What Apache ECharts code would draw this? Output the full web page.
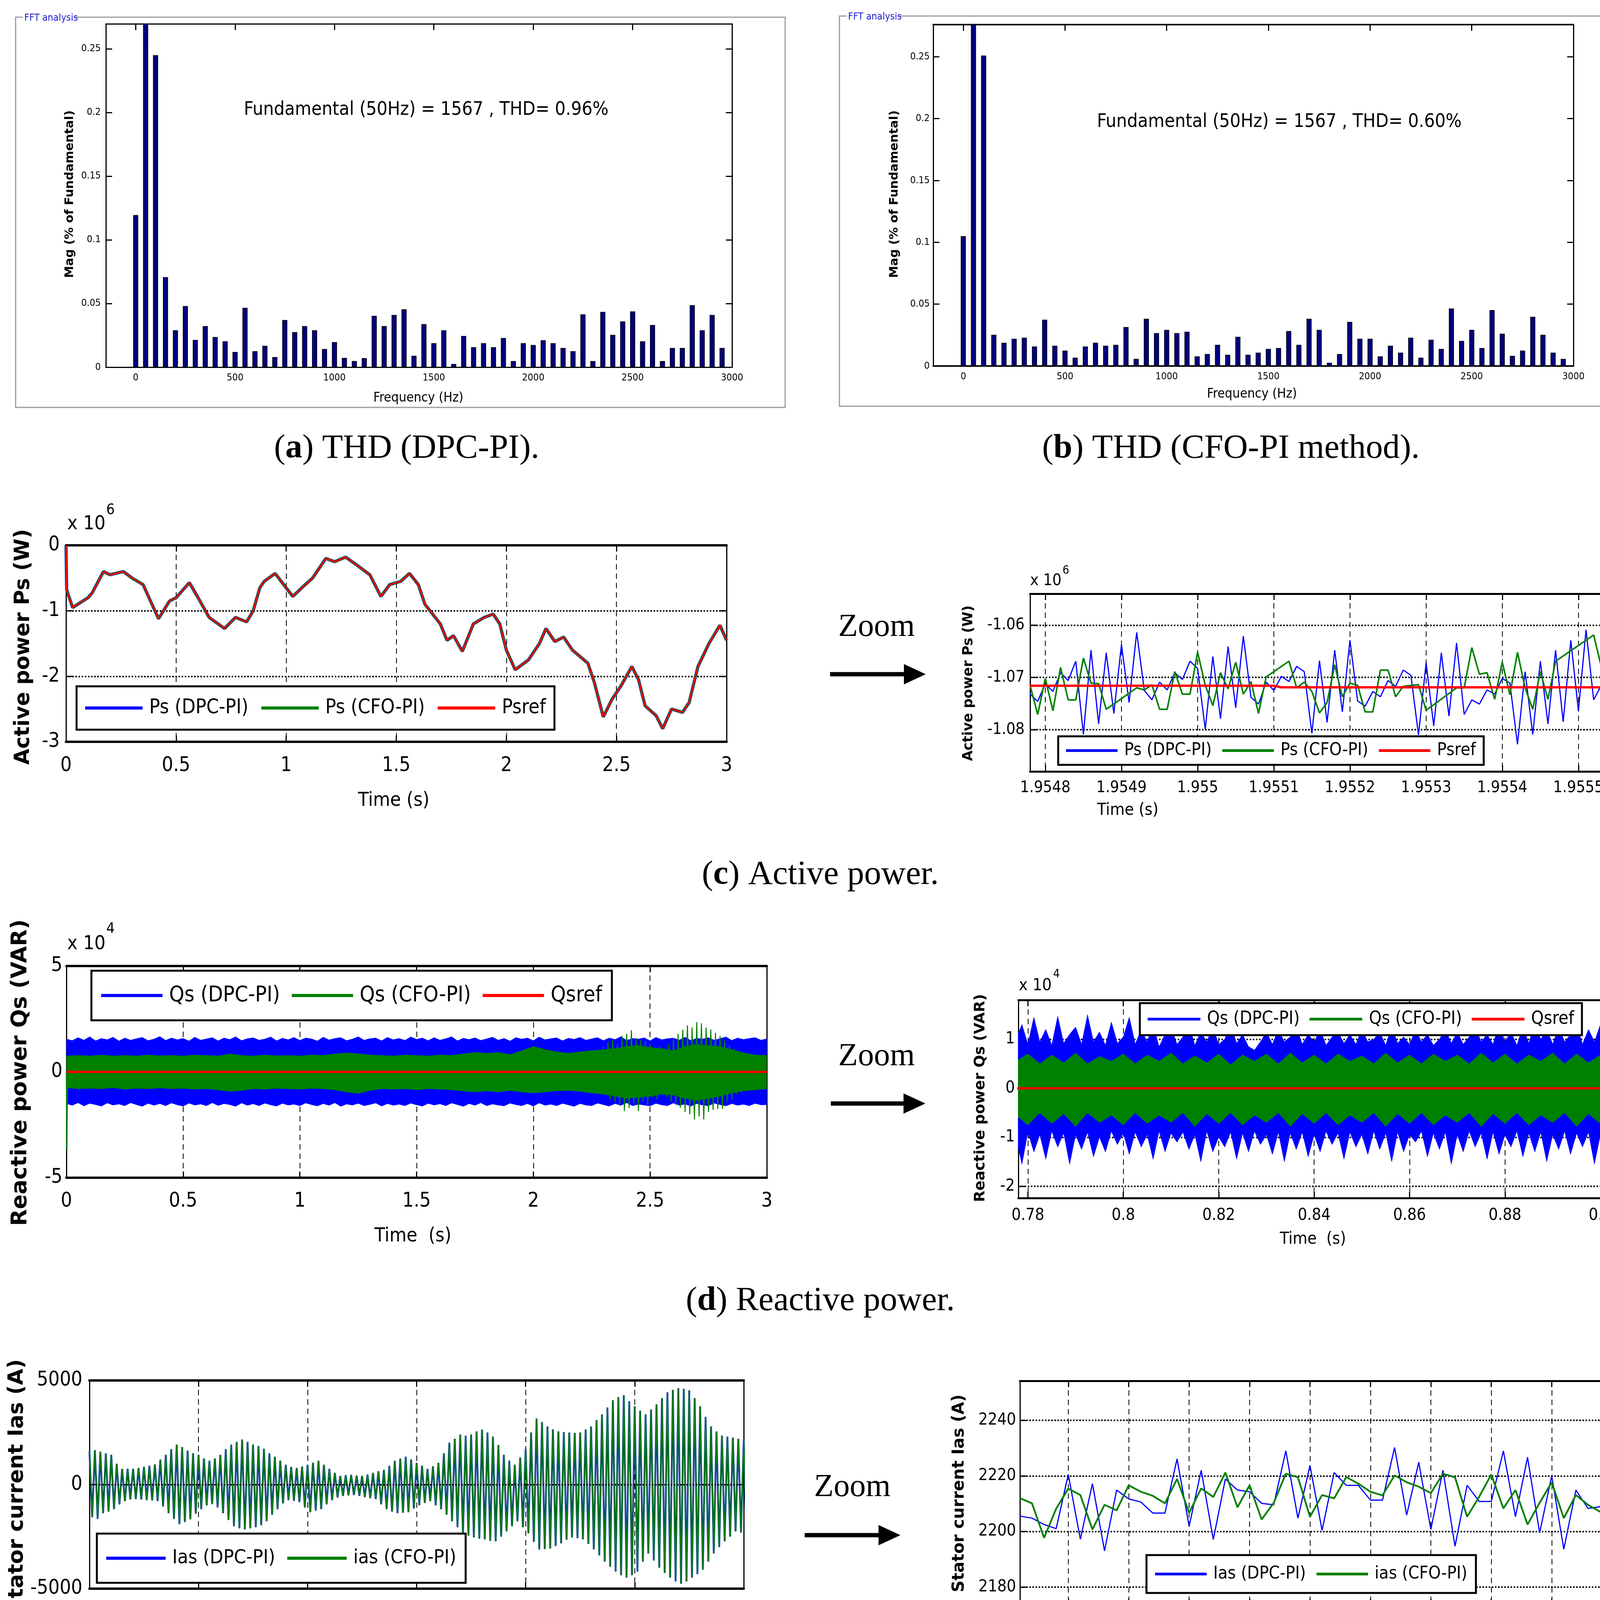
<!DOCTYPE html>
<html lang="en">
<head>
  <meta charset="utf-8">
</head>
<body style="margin: 0; background: #fff">
  <div id="container" style="width: 4164px; height: 5426px"></div>
  <script src="https://cdn.jsdelivr.net/npm/echarts@6.0.0/dist/echarts.min.js"></script>
  <script>
var FN = "'Liberation Sans Narrow','DejaVu Sans Condensed','Liberation Sans',sans-serif";
var FB = "'DejaVu Sans','Liberation Sans',sans-serif";
var FS = "'Liberation Serif','DejaVu Serif',serif";

// ---- (a), (b) FFT spectra ----
var fftFreq = [0,50,100,150,200,250,300,350,400,450,500,550,600,650,700,750,800,850,900,950,
  1000,1050,1100,1150,1200,1250,1300,1350,1400,1450,1500,1550,1600,1650,1700,1750,1800,1850,1900,1950,
  2000,2050,2100,2150,2200,2250,2300,2350,2400,2450,2500,2550,2600,2650,2700,2750,2800,2850,2900,2950];
var fftDpc = [0.1195,0.28,0.245,0.0707,0.029,0.048,0.0214,0.0323,0.0237,0.0203,
  0.012,0.0466,0.0126,0.0168,0.008,0.037,0.0275,0.0323,0.029,0.0143,
  0.0197,0.0073,0.0048,0.0071,0.0403,0.0323,0.041,0.0455,0.009,0.0338,
  0.0189,0.029,0.0025,0.0245,0.0157,0.0189,0.0157,0.0229,0.0048,0.0189,
  0.0174,0.0212,0.0189,0.0151,0.0126,0.0415,0.0048,0.0434,0.0254,0.036,
  0.0438,0.0203,0.0331,0.0048,0.0151,0.0151,0.0487,0.029,0.041,0.0151];
var fftCfo = [0.105,0.28,0.251,0.0253,0.0188,0.022,0.0229,0.0158,0.0374,0.0164,
  0.0125,0.0067,0.0158,0.0188,0.0164,0.0171,0.0315,0.0058,0.0382,0.0266,
  0.0292,0.0266,0.0277,0.0078,0.0097,0.0171,0.0091,0.0236,0.0091,0.0108,
  0.0138,0.0145,0.0283,0.0171,0.0382,0.0292,0.0026,0.0097,0.0357,0.022,
  0.022,0.0078,0.0164,0.0108,0.0229,0.0067,0.0212,0.0138,0.0465,0.0203,
  0.0292,0.0145,0.0452,0.0261,0.0082,0.0125,0.0398,0.0253,0.0108,0.0058];
var fftFreqTicks = [0,500,1000,1500,2000,2500,3000];
var fftMagTicks = [0,0.05,0.1,0.15,0.2,0.25];

// ---- common time axis ----
var timeTicks = [0,0.5,1,1.5,2,2.5,3];

// ---- (c) active power, x10^6 W ----
var psTicks = [-3,-2,-1,0];
var psMain = [[0,0],[0.003,-0.68],[0.03,-0.95],[0.1,-0.8],[0.12,-0.72],[0.17,-0.4],[0.2,-0.45],[0.26,-0.4],
  [0.3,-0.5],[0.35,-0.6],[0.42,-1.12],[0.47,-0.85],[0.5,-0.8],[0.56,-0.57],[0.6,-0.8],[0.65,-1.1],[0.72,-1.27],
  [0.77,-1.1],[0.82,-1.17],[0.85,-1.0],[0.88,-0.65],[0.9,-0.55],[0.95,-0.43],[1.0,-0.65],[1.03,-0.78],[1.08,-0.62],
  [1.12,-0.5],[1.18,-0.2],[1.22,-0.25],[1.27,-0.18],[1.32,-0.3],[1.38,-0.45],[1.43,-0.78],[1.47,-0.6],[1.52,-0.55],
  [1.56,-0.43],[1.6,-0.6],[1.63,-0.9],[1.7,-1.2],[1.73,-1.45],[1.76,-1.38],[1.8,-1.62],[1.85,-1.2],[1.9,-1.1],
  [1.94,-1.05],[1.97,-1.2],[2.0,-1.6],[2.04,-1.9],[2.1,-1.75],[2.15,-1.5],[2.18,-1.27],[2.22,-1.47],[2.26,-1.4],
  [2.3,-1.6],[2.37,-1.8],[2.4,-2.1],[2.44,-2.62],[2.48,-2.35],[2.52,-2.15],[2.57,-1.85],[2.6,-2.05],[2.63,-2.45],
  [2.68,-2.6],[2.71,-2.8],[2.75,-2.5],[2.8,-2.55],[2.83,-2.4],[2.87,-1.85],[2.92,-1.5],[2.97,-1.22],[3.0,-1.45]];
var psZoomT0 = 1.95478, psZoomDt = 0.00001;
var psZoomDpc = [-1.0732,-1.0746,-1.0712,-1.0727,-1.0691,-1.0706,-1.0669,-1.0809,-1.0648,-1.0789,
  -1.0653,-1.0769,-1.0637,-1.0748,-1.0614,-1.0725,-1.0743,-1.0709,-1.0724,-1.0691,
  -1.0704,-1.0669,-1.0683,-1.0799,-1.0660,-1.0779,-1.0641,-1.0758,-1.0621,-1.0738,
  -1.0751,-1.0709,-1.0725,-1.0698,-1.0708,-1.0679,-1.0689,-1.0807,-1.0668,-1.0786,
  -1.0648,-1.0766,-1.0629,-1.0745,-1.0755,-1.0727,-1.0737,-1.0706,-1.0717,-1.0686,
  -1.0696,-1.0810,-1.0672,-1.0793,-1.0653,-1.0774,-1.0634,-1.0771,-1.0743,-1.0751,
  -1.0724,-1.0732,-1.0702,-1.0711,-1.0828,-1.0689,-1.0809,-1.0669,-1.0789,-1.0648,
  -1.0785,-1.0629,-1.0764,-1.0609,-1.0743,-1.0715,-1.0725,-1.0698,-1.0704];
// [sample index, value]
var psZoomCfo = [[0,-1.0715],[1,-1.0771],[2,-1.0702],[3,-1.0764],[4,-1.0681],[5,-1.0743],[6,-1.0743],[7,-1.0663],
  [8,-1.0711],[9,-1.0712],[10,-1.0761],[14,-1.0720],[15,-1.0724],[16,-1.0714],[17,-1.0761],[18,-1.0761],[19,-1.0689],
  [20,-1.0732],[21,-1.0732],[22,-1.0652],[23,-1.0715],[24,-1.0754],[25,-1.0691],[26,-1.0722],[27,-1.0671],[28,-1.0732],
  [29,-1.0708],[30,-1.0769],[31,-1.0699],[34,-1.0669],[35,-1.0720],[36,-1.0709],[37,-1.0727],[38,-1.0768],[39,-1.0748],
  [40,-1.0676],[41,-1.0737],[42,-1.0711],[43,-1.0715],[44,-1.0766],[45,-1.0766],[46,-1.0686],[47,-1.0686],[48,-1.0737],
  [49,-1.0717],[51,-1.0714],[52,-1.0763],[56,-1.0720],[57,-1.0720],[58,-1.0643],[59,-1.0694],[60,-1.0691],[61,-1.0742],
  [62,-1.0671],[63,-1.0733],[64,-1.0652],[65,-1.0720],[66,-1.0761],[67,-1.0689],[68,-1.0742],[69,-1.0669],[74,-1.0619],
  [75,-1.0679],[76,-1.0669],[77,-1.0726],[78,-1.0706]];
var psZoomRef = [[1.95478,-1.0716],[1.9551,-1.0716],[1.95511,-1.0719],[1.95556,-1.0719]];
var psZoomXTicks = [1.9548,1.9549,1.955,1.9551,1.9552,1.9553,1.9554,1.9555];
var psZoomXLabels = ['1.9548','1.9549','1.955','1.9551','1.9552','1.9553','1.9554','1.9555'];
var psZoomYTicks = [-1.08,-1.07,-1.06];

// ---- (d) reactive power, x10^4 VAR ----
var qsTicks = [-5,0,5];
// DPC-PI band edges every 0.025 s
var qsDpcStep = 0.025;
var qsDpcHi = [1.55,1.48,1.62,1.5,1.66,1.47,1.58,1.52,1.64,1.46,
  1.6,1.5,1.57,1.63,1.48,1.55,1.67,1.49,1.6,1.52,
  1.58,1.46,1.64,1.5,1.56,1.62,1.47,1.6,1.53,1.66,
  1.48,1.57,1.61,1.5,1.55,1.65,1.47,1.59,1.52,1.63,
  1.49,1.6,1.56,1.46,1.64,1.51,1.58,1.62,1.48,1.55,
  1.66,1.5,1.57,1.6,1.47,1.63,1.52,1.58,1.49,1.65,
  1.54,1.6,1.48,1.62,1.5,1.57,1.66,1.47,1.59,1.53,
  1.61,1.49,1.56,1.64,1.5,1.58,1.46,1.62,1.55,1.6,
  1.48,1.65,1.52,1.57,1.61,1.47,1.59,1.54,1.63,1.5,
  1.56,1.62,1.48,1.6,1.53,1.66,1.49,1.58,1.55,1.61,
  1.47,1.63,1.52,1.57,1.6,1.5,1.64,1.48,1.59,1.55,
  1.62,1.5,1.57,1.65,1.49,1.6,1.53,1.58,1.62,1.5,1.56];
var qsDpcLo = [-1.5,-1.58,-1.46,-1.61,-1.49,-1.55,-1.62,-1.47,-1.57,-1.52,
  -1.6,-1.46,-1.55,-1.63,-1.49,-1.58,-1.5,-1.6,-1.47,-1.56,
  -1.62,-1.48,-1.57,-1.52,-1.6,-1.46,-1.59,-1.5,-1.55,-1.63,
  -1.47,-1.58,-1.51,-1.6,-1.48,-1.56,-1.62,-1.49,-1.57,-1.53,
  -1.6,-1.47,-1.55,-1.61,-1.5,-1.58,-1.46,-1.63,-1.52,-1.57,
  -1.49,-1.6,-1.54,-1.47,-1.62,-1.5,-1.58,-1.53,-1.6,-1.48,
  -1.56,-1.62,-1.49,-1.57,-1.51,-1.6,-1.47,-1.55,-1.63,-1.5,
  -1.58,-1.46,-1.6,-1.52,-1.57,-1.61,-1.48,-1.55,-1.6,-1.5,
  -1.62,-1.47,-1.58,-1.53,-1.6,-1.49,-1.56,-1.63,-1.5,-1.57,
  -1.6,-1.48,-1.55,-1.62,-1.5,-1.58,-1.46,-1.6,-1.53,-1.57,
  -1.61,-1.49,-1.56,-1.6,-1.47,-1.58,-1.52,-1.62,-1.5,-1.57,
  -1.6,-1.48,-1.55,-1.61,-1.5,-1.58,-1.53,-1.6,-1.49,-1.56,-1.55];
// CFO-PI band edges every 0.05 s
var qsCfoStep = 0.05;
var qsCfoHi = [0.75,0.78,0.75,0.8,0.75,0.78,0.75,0.8,0.76,0.78,0.75,0.8,0.78,0.75,0.85,0.78,0.75,0.8,0.76,0.78,
  0.75,0.8,0.78,0.85,0.9,0.86,0.8,0.78,0.75,0.8,0.78,0.75,0.8,0.78,0.85,0.92,0.88,0.92,0.82,1.0,
  1.2,1.05,0.95,0.88,0.95,1.0,1.05,1.1,1.2,1.25,1.15,1.1,1.0,1.2,1.3,1.25,1.2,1.05,0.9,0.8,0.78];
var qsCfoLo = [-0.75,-0.8,-0.78,-0.8,-0.75,-0.82,-0.78,-0.8,-0.76,-0.8,-0.78,-0.82,-0.8,-0.85,-0.92,-0.88,-0.8,-0.82,-0.78,-0.8,
  -0.82,-0.78,-0.8,-0.85,-0.95,-1.02,-0.88,-0.8,-0.82,-0.8,-0.85,-0.8,-0.82,-0.85,-0.9,-0.95,-0.9,-0.95,-0.88,-0.95,
  -1.0,-0.95,-0.9,-0.88,-0.92,-1.0,-1.05,-1.15,-1.25,-1.2,-1.15,-1.05,-1.1,-1.25,-1.35,-1.25,-1.15,-1.0,-0.9,-0.85,-0.8];
// CFO-PI bursts 2.30 .. 2.90 s, every 0.01 s
var qsSpikeT0 = 2.3, qsSpikeDt = 0.01;
var qsCfoSpike = [1.2,-1.1,1.4,-1.3,1.5,-1.4,1.3,-1.6,1.7,-1.85,1.8,-1.7,1.97,-1.5,1.6,-1.85,1.5,-1.4,1.45,-1.55,
  1.3,-1.2,1.1,-1.3,1.2,-1.1,1.05,-1.2,1.3,-1.4,1.6,-1.55,1.8,-1.7,2.0,-1.9,2.2,-2.0,2.1,-2.25,
  2.35,-2.1,2.3,-2.25,2.1,-1.9,2.0,-1.8,1.85,-1.75,1.7,-1.75,1.5,-1.4,1.25,-1.3,1.1,-1.05,1.0,-0.95,0.9];
var qsStart = [[0,0],[0.002,-3.7],[0.004,-0.7]];
// zoom: DPC-PI edges every 0.00125 s, CFO-PI every 0.0025 s, from 0.7775 s
var qsZoomT0 = 0.7775, qszDpcStep = 0.00125, qszCfoStep = 0.0025;
var qszDpcHi = [1.0,1.3,0.9,1.45,0.95,1.2,0.88,1.47,0.92,1.1,
  1.25,0.9,1.5,0.95,1.15,0.88,1.35,0.92,1.05,1.45,
  0.9,1.2,0.95,1.3,0.85,1.1,1.25,0.9,1.05,1.3,
  0.88,1.15,0.95,1.25,0.9,1.0,1.3,0.92,1.1,0.85,
  0.78,0.95,1.15,0.9,1.2,0.95,1.05,1.25,0.9,1.1,
  0.95,1.2,0.88,1.05,1.15,0.92,1.1,0.9,1.2,0.95,
  1.0,1.15,0.88,1.25,0.92,1.05,0.9,1.2,0.95,1.1,
  0.88,1.0,1.2,0.92,1.15,0.9,1.05,1.25,0.95,1.1,
  0.9,1.3,0.95,1.15,0.88,1.25,0.92,1.35,1.0,1.2,
  0.9,1.25,0.95,1.1,1.3,0.9,1.2,0.95,1.3,1.05,0.9];
var qszDpcLo = [-1.0,-1.55,-0.9,-1.3,-0.95,-1.45,-0.88,-1.2,-0.92,-1.55,
  -0.95,-1.25,-0.9,-1.4,-1.0,-1.3,-0.88,-1.15,-0.92,-1.35,
  -0.9,-1.2,-0.95,-1.45,-0.88,-1.3,-0.92,-1.1,-0.9,-1.25,
  -0.95,-1.5,-0.88,-1.3,-1.0,-1.2,-0.9,-1.45,-0.92,-1.3,
  -0.88,-1.15,-0.95,-1.35,-0.9,-1.5,-0.92,-1.25,-0.9,-1.4,
  -0.95,-1.3,-0.88,-1.15,-0.92,-1.45,-0.9,-1.2,-0.95,-1.35,
  -0.88,-1.25,-0.92,-1.5,-0.9,-1.3,-0.95,-1.1,-0.88,-1.4,
  -0.92,-1.25,-0.9,-1.55,-0.95,-1.3,-0.88,-1.2,-0.92,-1.45,
  -0.9,-1.35,-0.95,-1.2,-0.88,-1.4,-0.92,-1.3,-0.9,-1.5,
  -0.95,-1.25,-0.88,-1.35,-0.92,-1.2,-0.9,-1.55,-0.95,-1.3,-1.2];
var qszCfoHi = [0.55,0.7,0.5,0.68,0.52,0.72,0.5,0.65,0.55,0.7,0.5,0.68,0.55,0.72,0.5,0.66,0.52,0.7,0.48,0.68,
  0.55,0.7,0.5,0.72,0.52,0.68,0.5,0.7,0.55,0.66,0.5,0.72,0.52,0.68,0.5,0.7,0.55,0.68,0.5,0.72,
  0.52,0.7,0.5,0.68,0.55,0.72,0.5,0.7,0.52,0.68,0.55];
var qszCfoLo = [-0.55,-0.75,-0.5,-0.72,-0.52,-0.78,-0.5,-0.7,-0.55,-0.75,-0.5,-0.72,-0.55,-0.7,-0.5,-0.78,-0.52,-0.72,-0.5,-0.75,
  -0.55,-0.7,-0.5,-0.78,-0.52,-0.72,-0.5,-0.75,-0.55,-0.7,-0.5,-0.78,-0.52,-0.72,-0.5,-0.75,-0.55,-0.7,-0.5,-0.78,
  -0.52,-0.72,-0.5,-0.75,-0.55,-0.7,-0.5,-0.78,-0.52,-0.72,-0.55];
var qsZoomXTicks = [0.78,0.8,0.82,0.84,0.86,0.88,0.9];
var qsZoomYTicks = [-2,-1,0,1];

// ---- (e) stator current: crest / trough of each 0.025 s cycle ----
var iasTicks = [-5000,0,5000];
var iasStep = 0.025;
var iasHi = [1600,1650,1580,1500,1430,1000,755,760,755,800,850,900,970,1200,1430,1700,1920,1800,1630,1500,
  1430,1250,1140,1250,1430,1700,1920,2050,2160,2050,1920,1850,1720,1500,1340,1150,950,850,800,870,
  950,1050,1140,950,755,560,415,450,465,430,415,480,560,640,705,900,1140,1250,1340,1200,
  1045,900,755,880,1045,1500,2010,2200,2400,2350,2400,2550,2640,2500,2300,1900,1430,1150,950,1300,
  1720,2500,3170,3000,2790,2650,2550,2520,2500,2480,2500,2650,2790,3100,3370,3700,4050,4200,4290,4000,
  3760,3550,3370,3600,3850,4150,4430,4550,4630,4600,4530,4150,3760,3250,2790,2550,2350,2300,2260,2200,2110];
var iasLo = [-1570,-1650,-1375,-1300,-1180,-950,-795,-720,-700,-720,-745,-760,-795,-1050,-1375,-1650,-1905,-1800,-1665,-1400,
  -1180,-1000,-940,-1100,-1375,-1700,-2000,-2100,-2150,-2100,-2050,-1950,-1760,-1450,-1180,-900,-745,-780,-840,-1100,
  -1325,-1250,-1180,-950,-745,-620,-550,-520,-500,-550,-600,-650,-700,-950,-1180,-1300,-1375,-1350,-1325,-1150,
  -990,-880,-795,-1000,-1180,-1450,-1760,-2050,-2340,-2450,-2535,-2600,-2630,-2700,-2730,-2500,-2245,-2000,-1760,-2050,
  -2340,-2750,-3115,-3100,-3070,-2950,-2825,-2650,-2535,-2580,-2630,-2850,-3115,-3400,-3700,-3950,-4180,-4350,-4470,-4350,
  -4180,-3700,-3310,-3650,-3990,-4250,-4470,-4650,-4760,-4650,-4470,-4300,-4085,-3700,-3310,-3000,-2730,-2500,-2245,-2300,-2340];
var iasZoomT0 = 1.86536, iasZoomDt = 0.00001;
var iasZoomDpc = [2205.5,2204.8,2202.5,2201,2220.5,2197.2,2217.2,2193,2214.9,2211.7,
  2210.6,2206.6,2206.6,2226.1,2201.9,2222,2197.1,2218.9,2214.9,2214.3,
  2210.1,2209.6,2229,2204.8,2223.7,2200.4,2221.2,2216.6,2216.6,2211.3,
  2211.3,2230.2,2205.9,2224.9,2200.7,2222,2194.7,2216.6,2210.8,2210.8,
  2229,2205.3,2226.7,2199.5,2220,2193.6,2214.9,2208.3,2208.9,2224.4];
var iasZoomCfo = [2212,2210.1,2197.7,2208.2,2215.4,2213.1,2200.7,2209.6,2207.6,2216.6,
  2214.3,2212.8,2210.1,2218.9,2206.7,2215.5,2212.4,2221.2,2208.7,2216.6,
  2204.3,2210.3,2220.8,2219.5,2205.3,2213.1,2211.9,2219.6,2217.2,2214.3,
  2213,2220.2,2217.7,2216.1,2213.8,2220.8,2219.5,2205.3,2212.5,2220.5,
  2208.3,2214.9,2202.5,2210.3,2217.7,2204.8,2213.1,2209.6,2207.1,2204.8];
var iasZoomXTicks = [1.8654,1.86545,1.8655,1.86555,1.8656,1.86565,1.8657,1.86575,1.8658];
var iasZoomXLabels = ['1.8654','1.8655','1.8655','1.8656','1.8656','1.8657','1.8657','1.8658','1.8658'];
var iasZoomYTicks = [2180,2200,2220,2240];

// ---- (f) torque ----
var teTicks = [-15000,-10000,-5000,0];
var teMain = [[0,0],[0.005,-3000],[0.04,-4100],[0.08,-3500],[0.12,-3000],[0.17,-1500],[0.21,-1900],[0.27,-1600],
  [0.33,-2300],[0.37,-2700],[0.42,-4850],[0.47,-3650],[0.51,-3000],[0.56,-2400],[0.6,-3500],[0.65,-4750],[0.72,-5550],
  [0.76,-4650],[0.8,-5050],[0.85,-3600],[0.88,-2550],[0.92,-2200],[0.96,-1650],[1.0,-2450],[1.04,-3350],[1.1,-2750],
  [1.14,-2000],[1.18,-850],[1.22,-1000],[1.28,-750],[1.33,-1200],[1.38,-1600],[1.43,-3350],[1.48,-2450],[1.53,-2200],
  [1.57,-1700],[1.6,-2300],[1.65,-4100],[1.707,-6190],[1.752,-5860],[1.816,-7060],[1.877,-5100],[1.944,-4520],
  [1.978,-5100],[2.005,-6840],[2.035,-8220],[2.091,-7570],[2.137,-6700],[2.177,-5390],[2.227,-6330],[2.268,-5900],
  [2.329,-7420],[2.367,-8150],[2.403,-10030],[2.435,-11400],[2.487,-9600],[2.521,-8730],[2.566,-7860],[2.607,-9600],
  [2.645,-11040],[2.679,-11330],[2.72,-12130],[2.77,-10750],[2.815,-11190],[2.86,-8440],[2.901,-6990],[2.932,-6120],
  [2.966,-5250],[3.0,-6410]];
var teZoomT0 = 0.96225, teZoomDt = 0.00001;
var teZoomDpc = [-1725,-1770.6,-1734.4,-1777.5,-1745,-1716.9,-1751.3,-1724.8,-1758.5,-1732.5,
  -1765,-1739.8,-1768.8,-1748.8,-1769.4,-1717.3,-1758.8,-1724.8,-1768.8,-1732.5,
  -1776.3,-1739.8,-1783.1,-1745,-1722.8,-1755,-1690.6,-1763.1,-1698.8,-1771.3,
  -1706.9,-1779,-1714.8,-1786.3,-1721.5,-1794.4,-1729.8,-1762.3,-1737.5,-1770,
  -1746.5,-1776.9,-1745,-1716.9,-1761.3,-1725.6,-1769.4,-1731.9,-1776.9,-1739.8,-1783.8];
// [sample index, value]
var teZoomCfo = [[0,-1748],[1,-1752.3],[2,-1723.8],[3,-1746],[4,-1750.6],[5,-1722.5],[6,-1740],[7,-1761.3],
  [8,-1747.5],[9,-1718.8],[10,-1742.5],[11,-1759],[12,-1730.9],[13,-1747.8],[14,-1738.8],[15,-1769.4],[18,-1736],
  [21,-1748.1],[22,-1737.8],[24,-1746],[25,-1731],[26,-1767.3],[27,-1758.1],[28,-1743.1],[29,-1765],[30,-1750],
  [31,-1736],[32,-1758.1],[33,-1743.1],[34,-1766],[35,-1738.1],[36,-1755],[37,-1726.9],[38,-1750],[40,-1756.9],
  [42,-1765],[43,-1737.1],[44,-1754],[45,-1726],[46,-1748.5],[47,-1734.4],[48,-1750],[49,-1722.8],[50,-1745.6]];
var teZoomXTicks = [0.9623,0.96235,0.9624,0.96245,0.9625,0.96255,0.9626,0.96265,0.9627];
var teZoomXLabels = ['0.9623','0.9624','0.9624','0.9625','0.9625','0.9626','0.9626','0.9627','0.9627'];
var teZoomYTicks = [-1800,-1750,-1700];

// ------------------------------------------------------------------
var BLUE = '#0000ff', GREEN = '#008000', RED = '#ff0000', NAVY = '#00007f';
var grid = [], xAxis = [], yAxis = [], series = [], legend = [], graphic = [];

function fmtFrom(ticks, labels) {
  return function (v) {
    for (var i = 0; i < ticks.length; i++) {
      if (Math.abs(ticks[i] - v) < 1e-9) return labels ? labels[i] : String(ticks[i]);
    }
    return '';
  };
}

function panel(p) {
  var gi = grid.length;
  grid.push({ left: p.l, top: p.t, width: p.w, height: p.h, show: false });
  var xi = xAxis.length, yi = yAxis.length;
  [['bottom', true], ['top', false]].forEach(function (s) {
    xAxis.push({
      type: 'value', gridIndex: gi, position: s[0], min: p.x[0], max: p.x[1],
      axisLine: { show: true, onZero: false, lineStyle: { color: '#000', width: p.thick } },
      axisTick: { show: true, inside: true, length: 16, lineStyle: { color: '#000', width: 3 }, customValues: p.xt },
      axisLabel: { show: s[1], customValues: p.xt, formatter: fmtFrom(p.xt, p.xl), color: '#000',
        fontFamily: FN, fontSize: p.fs, margin: p.xm },
      splitLine: { show: s[1] && !!p.xg, lineStyle: { color: '#000', width: 2, type: [14, 10] } }
    });
  });
  [['left', true], ['right', false]].forEach(function (s) {
    yAxis.push({
      type: 'value', gridIndex: gi, position: s[0], min: p.y[0], max: p.y[1],
      axisLine: { show: true, onZero: false, lineStyle: { color: '#000', width: 3 } },
      axisTick: { show: true, inside: true, length: 16, lineStyle: { color: '#000', width: 3 }, customValues: p.yt },
      axisLabel: { show: s[1], customValues: p.yt, formatter: fmtFrom(p.yt), color: '#000',
        fontFamily: FN, fontSize: p.fs, margin: p.ym },
      splitLine: { show: s[1] && !!p.yg, lineStyle: { color: '#000', width: 4, type: [4, 4] } }
    });
  });
  return { x: xi, y: yi };
}

function line(name, ax, data, color, width, extra) {
  var s = { type: 'line', name: name, xAxisIndex: ax.x, yAxisIndex: ax.y, data: data, color: color,
    showSymbol: false, symbol: 'none', lineStyle: { color: color, width: width }, silent: true };
  if (extra) for (var k in extra) s[k] = extra[k];
  series.push(s);
}

function band(name, ax, data, color) {
  line(name, ax, data, color, 1, { areaStyle: { color: color, opacity: 1 } });
}

function leg(names, left, top, fs, iw, gap, pad, orient) {
  legend.push({ data: names, left: left, top: top, orient: orient || 'horizontal', icon: 'rect',
    itemWidth: iw, itemHeight: fs > 47 ? 8 : 7, itemGap: gap, padding: pad,
    borderColor: '#000', borderWidth: 5, backgroundColor: '#fff', selectedMode: false,
    textStyle: { fontFamily: FN, fontSize: fs, color: '#000', padding: [0, 0, 0, 12] } });
}

function txt(x, y, text, font, o) {
  o = o || {};
  graphic.push({ type: 'text', x: x, y: y, rotation: o.rot || 0, z: 100,
    style: { text: text, font: font, fill: o.color || '#000', textAlign: o.align || 'center',
      textVerticalAlign: o.va || 'middle', rich: o.rich } });
}

function arrow(x1, x2, y) {
  graphic.push({ type: 'line', z: 100, shape: { x1: x1, y1: y, x2: x2 - 40, y2: y }, style: { stroke: '#000', lineWidth: 11 } });
  graphic.push({ type: 'polygon', z: 100, shape: { points: [[x2 - 56, y - 26], [x2, y], [x2 - 56, y + 26]] }, style: { fill: '#000' } });
}

function pairs(t0, dt, vals) { return vals.map(function (v, i) { return [t0 + i * dt, v]; }); }
function idxPairs(t0, dt, list) { return list.map(function (p) { return [t0 + p[0] * dt, p[1]]; }); }

// ---- (a) ----
var aA = panel({ l: 271, t: 61, w: 1603, h: 879, x: [-150, 3000], y: [0, 0.2696], xt: fftFreqTicks, yt: fftMagTicks,
  fs: 25, xm: 15, ym: 13, thick: 3 });
series.push({ type: 'bar', xAxisIndex: aA.x, yAxisIndex: aA.y, barWidth: 13, silent: true,
  data: fftFreq.map(function (f, i) { return [f, fftDpc[i]]; }),
  itemStyle: { color: NAVY, borderColor: '#000', borderWidth: 1.5 } });
// ---- (b) ----
var aB = panel({ l: 2389, t: 63, w: 1639, h: 874, x: [-148, 3000], y: [0, 0.276], xt: fftFreqTicks, yt: fftMagTicks,
  fs: 25, xm: 15, ym: 9, thick: 4 });
series.push({ type: 'bar', xAxisIndex: aB.x, yAxisIndex: aB.y, barWidth: 13, silent: true,
  data: fftFreq.map(function (f, i) { return [f, fftCfo[i]]; }),
  itemStyle: { color: NAVY, borderColor: '#000', borderWidth: 1.5 } });

// ---- (c) ----
var aC1 = panel({ l: 169, t: 1396, w: 1691, h: 503, x: [0, 3], y: [-3, 0], xt: timeTicks, yt: psTicks,
  fs: 51, xm: 36, ym: 16, thick: 6, xg: true, yg: true });
line('Ps (DPC-PI)', aC1, psMain, BLUE, 8);
line('Ps (CFO-PI)', aC1, psMain, GREEN, 6.5);
line('Psref', aC1, psMain, RED, 4);
var aC2 = panel({ l: 2637, t: 1520, w: 1511, h: 455, x: [1.95478, 1.955555], y: [-1.088, -1.054],
  xt: psZoomXTicks, xl: psZoomXLabels, yt: psZoomYTicks, fs: 41, xm: 22, ym: 14, thick: 5, xg: true, yg: true });
line('Ps (DPC-PI)', aC2, pairs(psZoomT0, psZoomDt, psZoomDpc), BLUE, 3);
line('Ps (CFO-PI)', aC2, idxPairs(psZoomT0, psZoomDt, psZoomCfo), GREEN, 4);
line('Psref', aC2, psZoomRef, RED, 6);

// ---- (d) ----
var aD1 = panel({ l: 170, t: 2473, w: 1793, h: 542, x: [0, 3], y: [-5, 5], xt: timeTicks, yt: qsTicks,
  fs: 51, xm: 35, ym: 10, thick: 6, xg: true });
band('Qs (DPC-PI)', aD1, pairs(0, qsDpcStep, qsDpcHi), BLUE);
band('Qs (DPC-PI)', aD1, pairs(0, qsDpcStep, qsDpcLo), BLUE);
band('Qs (CFO-PI)', aD1, pairs(0, qsCfoStep, qsCfoHi), GREEN);
band('Qs (CFO-PI)', aD1, pairs(0, qsCfoStep, qsCfoLo), GREEN);
line('Qs (CFO-PI)', aD1, pairs(qsSpikeT0, qsSpikeDt, qsCfoSpike), GREEN, 2.5);
line('Qs (CFO-PI)', aD1, qsStart, GREEN, 3);
line('Qsref', aD1, [[0, 0], [3, 0]], RED, 6);
var aD2 = panel({ l: 2607, t: 2560, w: 1523, h: 507, x: [0.778, 0.9027], y: [-2.24, 1.8],
  xt: qsZoomXTicks, yt: qsZoomYTicks, fs: 42, xm: 24, ym: 9, thick: 5, xg: true, yg: true });
band('Qs (DPC-PI)', aD2, pairs(qsZoomT0, qszDpcStep, qszDpcHi), BLUE);
band('Qs (DPC-PI)', aD2, pairs(qsZoomT0, qszDpcStep, qszDpcLo), BLUE);
band('Qs (CFO-PI)', aD2, pairs(qsZoomT0, qszCfoStep, qszCfoHi), GREEN);
band('Qs (CFO-PI)', aD2, pairs(qsZoomT0, qszCfoStep, qszCfoLo), GREEN);
line('Qsref', aD2, [[0.7775, 0], [0.9027, 0]], RED, 6);

// ---- (e) ----
var iasWave = [];
for (var i = 0; i < iasHi.length; i++) {
  iasWave.push([i * iasStep, iasHi[i]]);
  if (i < iasLo.length) iasWave.push([i * iasStep + iasStep / 2, iasLo[i]]);
}
var aE1 = panel({ l: 229, t: 3534, w: 1675, h: 533, x: [0, 3], y: [-5000, 5000], xt: timeTicks, yt: iasTicks,
  fs: 51, xm: 37, ym: 18, thick: 6, xg: true, yg: true });
line('Ias (DPC-PI)', aE1, iasWave, BLUE, 4.5);
line('ias (CFO-PI)', aE1, iasWave, GREEN, 3.2, {
  markLine: { silent: true, symbol: 'none', label: { show: false },
    lineStyle: { color: '#000', width: 4, type: [4, 4] }, data: [{ yAxis: 0 }] } });
var aE2 = panel({ l: 2611, t: 3535, w: 1513, h: 574, x: [1.86536, 1.865849], y: [2173.5, 2254.2],
  xt: iasZoomXTicks, xl: iasZoomXLabels, yt: iasZoomYTicks, fs: 42, xm: 25, ym: 10, thick: 5, xg: true, yg: true });
line('Ias (DPC-PI)', aE2, pairs(iasZoomT0, iasZoomDt, iasZoomDpc), BLUE, 3);
line('ias (CFO-PI)', aE2, pairs(iasZoomT0, iasZoomDt, iasZoomCfo), GREEN, 4.5);

// ---- (f) ----
var aF1 = panel({ l: 272, t: 4549, w: 1678, h: 522, x: [0, 3], y: [-15000, 0], xt: timeTicks, yt: teTicks,
  fs: 51, xm: 35, ym: 13, thick: 6, xg: true, yg: true });
line('Te (DPC-PI)', aF1, teMain, BLUE, 7.5);
line('Te (CFO-PI)', aF1, teMain, GREEN, 5.5);
var aF2 = panel({ l: 2616, t: 4617, w: 1503, h: 510, x: [0.962254, 0.96275], y: [-1812.1, -1675],
  xt: teZoomXTicks, xl: teZoomXLabels, yt: teZoomYTicks, fs: 42, xm: 24, ym: 13, thick: 5, xg: true, yg: true });
line('Te (DPC-PI)', aF2, pairs(teZoomT0, teZoomDt, teZoomDpc), BLUE, 3);
line('Te (CFO-PI)', aF2, idxPairs(teZoomT0, teZoomDt, teZoomCfo), GREEN, 4.5);

// ---- legends ----
leg(['Ps (DPC-PI)', 'Ps (CFO-PI)', 'Psref'], 196, 1757, 51, 147, 33, [30, 22]);
leg(['Ps (DPC-PI)', 'Ps (CFO-PI)', 'Psref'], 2709, 1885, 45, 132, 27, [14, 20]);
leg(['Qs (DPC-PI)', 'Qs (CFO-PI)', 'Qsref'], 234, 2485, 55, 157, 30, [36, 25]);
leg(['Qs (DPC-PI)', 'Qs (CFO-PI)', 'Qsref'], 2918, 2568, 46, 135, 25, [18, 20]);
leg(['Ias (DPC-PI)', 'ias (CFO-PI)'], 248, 3926, 50, 152, 31, [38, 24]);
leg(['Ias (DPC-PI)', 'ias (CFO-PI)'], 2935, 3981, 45, 132, 27, [26, 22]);
leg(['Te (DPC-PI)', 'Te (CFO-PI)'], 641, 4774, 50, 150, 50, [42, 22], 'vertical');
leg(['Te (DPC-PI)', 'Te (CFO-PI)'], 2748, 4962, 45, 136, 22, [14, 20], 'vertical');

// ---- FFT frames and texts ----
graphic.push({ type: 'rect', z: 90, shape: { x: 40, y: 44, width: 1970, height: 999 }, style: { fill: 'none', stroke: '#9a9a9a', lineWidth: 3 } });
graphic.push({ type: 'rect', z: 90, shape: { x: 2149, y: 41, width: 2009, height: 999 }, style: { fill: 'none', stroke: '#9a9a9a', lineWidth: 3 } });
graphic.push({ type: 'rect', z: 95, shape: { x: 58, y: 32, width: 134, height: 26 }, style: { fill: '#fff' } });
graphic.push({ type: 'rect', z: 95, shape: { x: 2167, y: 29, width: 134, height: 26 }, style: { fill: '#fff' } });
txt(62, 46, 'FFT analysis', '25px ' + FN, { align: 'left', color: '#1a1acc' });
txt(2171, 43, 'FFT analysis', '25px ' + FN, { align: 'left', color: '#1a1acc' });
txt(1091, 282, 'Fundamental (50Hz) = 1567 , THD= 0.96%', '48px ' + FN);
txt(3275, 313, 'Fundamental (50Hz) = 1567 , THD= 0.60%', '48px ' + FN);
txt(179, 497, 'Mag (% of Fundamental)', 'bold 31px ' + FB, { rot: Math.PI / 2 });
txt(2290, 497, 'Mag (% of Fundamental)', 'bold 31px ' + FB, { rot: Math.PI / 2 });
txt(1071, 1019, 'Frequency (Hz)', '34px ' + FN);
txt(3205, 1009, 'Frequency (Hz)', '34px ' + FN);

// ---- axis titles ----
txt(60, 1656, 'Active power Ps (W)', 'bold 53px ' + FB, { rot: Math.PI / 2 });
txt(2480, 1749, 'Active power Ps (W)', 'bold 35px ' + FB, { rot: Math.PI / 2 });
txt(52, 2746, 'Reactive power Qs (VAR)', 'bold 56px ' + FB, { rot: Math.PI / 2 });
txt(2510, 2811, 'Reactive power Qs (VAR)', 'bold 38px ' + FB, { rot: Math.PI / 2 });
txt(44, 3805, 'Stator current Ias (A)', 'bold 54px ' + FB, { rot: Math.PI / 2 });
txt(2456, 3823, 'Stator current Ias (A)', 'bold 42px ' + FB, { rot: Math.PI / 2 });
txt(63, 4810, 'Torque Te (N.m)', 'bold 54px ' + FB, { rot: Math.PI / 2 });
txt(2447, 4871, 'Torque Te (N.m)', 'bold 38px ' + FB, { rot: Math.PI / 2 });

txt(1008, 2050, 'Time (s)', '50px ' + FN);
txt(2887, 2075, 'Time (s)', '43px ' + FN);
txt(1057, 3165, 'Time  (s)', '50px ' + FN);
txt(3361, 3173, 'Time  (s)', '43px ' + FN);
txt(1062, 4227, 'Time (s)', '50px ' + FN);
txt(3362, 4232, 'Time (s)', '43px ' + FN);
txt(1103, 5225, 'Time (s)', '50px ' + FN);
txt(3362, 5232, 'Time (s)', '43px ' + FN);

// ---- exponent labels ----
txt(172, 1342, 'x 10', '50px ' + FN, { align: 'left' });
txt(272, 1306, '6', '38px ' + FN, { align: 'left' });
txt(2637, 1487, 'x 10', '41px ' + FN, { align: 'left' });
txt(2720, 1461, '6', '30px ' + FN, { align: 'left' });
txt(172, 2417, 'x 10', '50px ' + FN, { align: 'left' });
txt(272, 2378, '4', '38px ' + FN, { align: 'left' });
txt(2608, 2524, 'x 10', '43px ' + FN, { align: 'left' });
txt(2696, 2494, '4', '30px ' + FN, { align: 'left' });

// ---- "Zoom" arrows ----
txt(2244, 1606, 'Zoom', '82px ' + FS);
arrow(2125, 2370, 1726);
txt(2244, 2705, 'Zoom', '82px ' + FS);
arrow(2127, 2369, 2825);
txt(2182, 3808, 'Zoom', '82px ' + FS);
arrow(2060, 2305, 3930);
txt(2227, 4742, 'Zoom', '82px ' + FS);
arrow(2107, 2352, 4860);

// ---- captions ----
var capRich = { b: { font: 'bold 87px ' + FS, fill: '#000' } };
txt(1041, 1149, '({b|a}) THD (DPC-PI).', '87px ' + FS, { rich: capRich });
txt(3151, 1149, '({b|b}) THD (CFO-PI method).', '87px ' + FS, { rich: capRich });
txt(2100, 2240, '({b|c}) Active power.', '87px ' + FS, { rich: capRich });
txt(2100, 3331, '({b|d}) Reactive power.', '87px ' + FS, { rich: capRich });
txt(2100, 4417, '({b|e}) Current.', '87px ' + FS, { rich: capRich });
txt(2100, 5375, '({b|f}) Torque.', '87px ' + FS, { rich: capRich });

var dom = document.getElementById('container');
var myChart = echarts.init(dom, null, { renderer: 'canvas', width: 4164, height: 5426 });
var option = {
  backgroundColor: '#fff',
  animation: false,
  grid: grid,
  xAxis: xAxis,
  yAxis: yAxis,
  legend: legend,
  series: series,
  graphic: { elements: graphic }
};
myChart.setOption(option);
window.addEventListener('resize', myChart.resize);
  </script>
</body>
</html>
